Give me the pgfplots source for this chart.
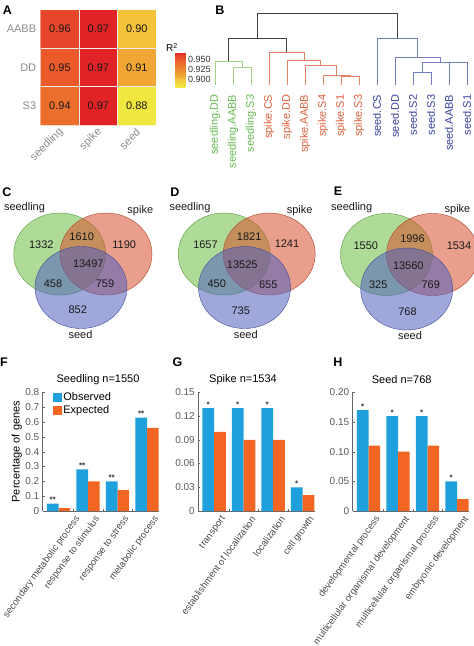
\documentclass[border=0pt]{standalone}
\usepackage{fontspec}
\setmainfont{Liberation Sans}
\usepackage{pgfplots}
\pgfplotsset{compat=1.18}

\definecolor{obs}{RGB}{30,160,220}
\definecolor{expc}{RGB}{242,101,34}
\definecolor{vgreen}{RGB}{110,190,70}
\definecolor{vred}{RGB}{215,80,45}
\definecolor{vblue}{RGB}{80,95,190}
\definecolor{dgreen}{RGB}{100,185,80}
\definecolor{dred}{RGB}{222,95,60}
\definecolor{dblue}{RGB}{55,65,160}
\definecolor{lgreen}{RGB}{160,210,140}
\definecolor{lred}{RGB}{230,130,100}
\definecolor{lblue}{RGB}{115,125,192}

\pgfplotsset{
 barax/.style={scale only axis, width=116.7pt, height=118.7pt, anchor=south west,
  ybar=0pt, bar width=11.7pt, xmin=0.464, xmax=4.42, ymin=0,
  axis x line*=bottom, axis y line*=left,
  axis line style={black!60, line width=0.5pt},
  xtick={1,2,3,4}, minor x tick num=1,
  major x tick style={draw=none}, minor x tick style={draw=black!60},
  y tick style={draw=black!60},
  minor tick length=2pt, major tick length=2pt, tick align=inside,
  yticklabel style={font=\fontsize{10}{10}\selectfont, text=black!65},
  xticklabel style={font=\fontsize{9.5}{10}\selectfont, text=black!70, xshift=11.8pt, yshift=-3.6pt, rotate=54, anchor=east},
  title style={font=\fontsize{11}{12}\selectfont, anchor=center, yshift=7pt},
  scaled y ticks=false,
  every node near coord/.append style={font=\bfseries\fontsize{8}{8}\selectfont, text=black!80, inner sep=0.5pt},
 },
 sq/.style={legend image code/.code={\fill[##1] (0pt,-4.5pt) rectangle (9pt,4.5pt);}},
}

\begin{document}
\begin{tikzpicture}
\useasboundingbox (0pt,0pt) rectangle (474pt,-646pt);

% ---------- canvas axis: dendrogram, Venn diagrams, panel letters
\begin{axis}[at={(0pt,0pt)}, anchor=north west, scale only axis,
  width=474pt, height=646pt, xmin=0, xmax=474, ymin=0, ymax=646,
  y dir=reverse, hide axis, clip=false]
% root
\addplot[black!75, line width=0.7pt] coordinates {(257.5,38.3)(257.5,13.3)(397.25,13.3)(397.25,38.3)};
\addplot[black!75, line width=0.7pt] coordinates {(228.5,61)(228.5,38.3)(286.4,38.3)(286.4,52.7)};
% seedling
\addplot[lgreen, line width=0.7pt] coordinates {(215,85)(215,61)(242,61)(242,67.3)};
\addplot[lgreen, line width=0.7pt] coordinates {(233,85)(233,67.3)(251,67.3)(251,85)};
% spike
\addplot[lred, line width=0.7pt] coordinates {(269,85)(269,52.7)(303.9,52.7)(303.9,60)};
\addplot[lred, line width=0.7pt] coordinates {(287,85)(287,60)(320.75,60)(320.75,65.7)};
\addplot[lred, line width=0.7pt] coordinates {(305,85)(305,65.7)(336.5,65.7)(336.5,75)};
\addplot[lred, line width=0.7pt] coordinates {(323,85)(323,75)(350,75)(350,76.5)};
\addplot[lred, line width=0.7pt] coordinates {(341,85)(341,76.5)(359,76.5)(359,85)};
% seed
\addplot[lblue, line width=0.7pt] coordinates {(377,85)(377,38.3)(417.5,38.3)(417.5,57.3)};
\addplot[lblue, line width=0.7pt] coordinates {(395,85)(395,57.3)(440,57.3)(440,62)};
\addplot[lblue, line width=0.7pt] coordinates {(422,72.7)(422,62)(458,62)(458,62.7)};
\addplot[lblue, line width=0.7pt] coordinates {(413,85)(413,72.7)(431,72.7)(431,85)};
\addplot[lblue, line width=0.7pt] coordinates {(449,85)(449,62.7)(467,62.7)(467,85)};
% leaf labels
\begin{scope}[every node/.style={rotate=90, anchor=east, inner sep=0pt, font=\fontsize{11}{12}\selectfont}]
\node[text=dgreen] at (axis cs:215,94.5) {seedling.DD};
\node[text=dgreen] at (axis cs:233,94.5) {seedling.AABB};
\node[text=dgreen] at (axis cs:251,94.5) {seedling.S3};
\node[text=dred] at (axis cs:269,94.5) {spike.CS};
\node[text=dred] at (axis cs:287,94.5) {spike.DD};
\node[text=dred] at (axis cs:305,94.5) {spike.AABB};
\node[text=dred] at (axis cs:323,94.5) {spike.S4};
\node[text=dred] at (axis cs:341,94.5) {spike.S1};
\node[text=dred] at (axis cs:359,94.5) {spike.S3};
\node[text=dblue] at (axis cs:377,94.5) {seed.CS};
\node[text=dblue] at (axis cs:395,94.5) {seed.DD};
\node[text=dblue] at (axis cs:413,94.5) {seed.S2};
\node[text=dblue] at (axis cs:431,94.5) {seed.S3};
\node[text=dblue] at (axis cs:449,94.5) {seed.AABB};
\node[text=dblue] at (axis cs:467,94.5) {seed.S1};
\end{scope}

% Venn diagrams
\begin{scope}[fill opacity=0.55, line width=0.4pt]
\filldraw[fill=vgreen, draw=vgreen!80!black] (axis cs:59.7,254) ellipse [x radius=46pt, y radius=41pt];
\filldraw[fill=vred, draw=vred!80!black] (axis cs:106,254) ellipse [x radius=46pt, y radius=41pt];
\filldraw[fill=vblue, draw=vblue!80!black] (axis cs:81,287.5) ellipse [x radius=46pt, y radius=41pt];
\filldraw[fill=vgreen, draw=vgreen!80!black] (axis cs:224.2,254) ellipse [x radius=46pt, y radius=41pt];
\filldraw[fill=vred, draw=vred!80!black] (axis cs:269.2,254) ellipse [x radius=46pt, y radius=41pt];
\filldraw[fill=vblue, draw=vblue!80!black] (axis cs:244.5,287.5) ellipse [x radius=46pt, y radius=41pt];
\filldraw[fill=vgreen, draw=vgreen!80!black] (axis cs:386.5,254.5) ellipse [x radius=46pt, y radius=41pt];
\filldraw[fill=vred, draw=vred!80!black] (axis cs:432.5,254.5) ellipse [x radius=46pt, y radius=41pt];
\filldraw[fill=vblue, draw=vblue!80!black] (axis cs:406.7,289) ellipse [x radius=46pt, y radius=41pt];
\end{scope}
\begin{scope}[every node/.style={font=\fontsize{11}{12}\selectfont, text=black!90, inner sep=0pt}]
\node at (axis cs:41.3,245) {1332};
\node at (axis cs:81.7,236.7) {1610};
\node at (axis cs:124.2,245) {1190};
\node at (axis cs:88.3,264) {13497};
\node at (axis cs:53,283.3) {458};
\node at (axis cs:105,284) {759};
\node at (axis cs:77.8,310) {852};
\node at (axis cs:24.5,207.3) {seedling};
\node at (axis cs:140.3,210.7) {spike};
\node at (axis cs:80.5,334.3) {seed};
\node at (axis cs:205.5,245) {1657};
\node at (axis cs:249.2,236.7) {1821};
\node at (axis cs:287,244) {1241};
\node at (axis cs:242.2,265) {13525};
\node at (axis cs:216.7,284) {450};
\node at (axis cs:268.3,284.3) {655};
\node at (axis cs:240.8,310.7) {735};
\node at (axis cs:190,207.3) {seedling};
\node at (axis cs:299.7,210.7) {spike};
\node at (axis cs:245.8,334.3) {seed};
\node at (axis cs:365.8,245.7) {1550};
\node at (axis cs:412.5,238.3) {1996};
\node at (axis cs:459,245.7) {1534};
\node at (axis cs:408.3,265.7) {13560};
\node at (axis cs:378.3,285) {325};
\node at (axis cs:430.8,285) {769};
\node at (axis cs:407.5,311.7) {768};
\node at (axis cs:351.7,207.3) {seedling};
\node at (axis cs:457.5,210) {spike};
\node at (axis cs:410,336) {seed};
\end{scope}
% colorbar title
\node[anchor=west, inner sep=0pt, font=\fontsize{10}{11}\selectfont] at (axis cs:166,47.5) {R\textsuperscript{2}};
% panel letters
\begin{scope}[every node/.style={font=\bfseries\fontsize{12.5}{13}\selectfont, inner sep=0pt}]
\node at (axis cs:7.5,10.5) {A};
\node at (axis cs:220,10) {B};
\node at (axis cs:7,192) {C};
\node at (axis cs:175,192) {D};
\node at (axis cs:338,191) {E};
\node at (axis cs:4,362.5) {F};
\node at (axis cs:177.5,362.5) {G};
\node at (axis cs:338,362.5) {H};
\end{scope}
\end{axis}

% ---------- A: heatmap
\begin{axis}[at={(40.7pt,-125pt)}, anchor=south west, scale only axis,
  width=115.3pt, height=115pt,
  xmin=-0.5, xmax=2.5, ymin=-0.5, ymax=2.5,
  xtick={0,1,2}, xticklabels={seedling,spike,seed},
  ytick={0,1,2}, yticklabels={S3,DD,AABB},
  axis line style={draw=none}, major tick length=0pt,
  tick label style={font=\fontsize{11}{12}\selectfont, text=black!45},
  xticklabel style={xshift=4pt, yshift=-3pt, rotate=45, anchor=east},
  yticklabel style={xshift=-1pt},
  colormap={heat}{rgb255(0cm)=(240,232,65); rgb255(2cm)=(243,196,58); rgb255(3cm)=(241,165,52); rgb255(6cm)=(236,110,45); rgb255(7cm)=(234,90,43); rgb255(8cm)=(231,70,42); rgb255(9cm)=(226,35,38)},
  point meta min=0.88, point meta max=0.97,
  colorbar,
  colorbar style={scale only axis, at={(parent axis.north east)}, anchor=north west,
    xshift=11pt, yshift=-42pt, width=10pt, height=35pt,
    ytick={0.9,0.925,0.95}, axis line style={draw=none}, major tick length=0pt,
    scaled y ticks=false,
    yticklabel style={font=\fontsize{9}{10}\selectfont, text=black!80, xshift=-1pt,
      /pgf/number format/fixed, /pgf/number format/fixed zerofill,
      /pgf/number format/precision=3, /pgf/number format/assume math mode=true}},
]
\addplot[matrix plot*, point meta=explicit, mesh/cols=3] table[meta=c] {
x y c
0 0 0.94
1 0 0.97
2 0 0.88
0 1 0.95
1 1 0.97
2 1 0.91
0 2 0.96
1 2 0.97
2 2 0.90
};
\draw[white!85!gray, line width=0.4pt] (axis cs:0.5,-0.5) -- (axis cs:0.5,2.5);
\draw[white!85!gray, line width=0.4pt] (axis cs:1.5,-0.5) -- (axis cs:1.5,2.5);
\draw[white!85!gray, line width=0.4pt] (axis cs:-0.5,0.5) -- (axis cs:2.5,0.5);
\draw[white!85!gray, line width=0.4pt] (axis cs:-0.5,1.5) -- (axis cs:2.5,1.5);
\begin{scope}[every node/.style={font=\fontsize{11}{12}\selectfont, text=black!90}]
\node at (axis cs:0,2) {0.96}; \node at (axis cs:1,2) {0.97}; \node at (axis cs:2,2) {0.90};
\node at (axis cs:0,1) {0.95}; \node at (axis cs:1,1) {0.97}; \node at (axis cs:2,1) {0.91};
\node at (axis cs:0,0) {0.94}; \node at (axis cs:1,0) {0.97}; \node at (axis cs:2,0) {0.88};
\end{scope}
\end{axis}

% ---------- F
\begin{axis}[barax, at={(42.7pt,-511pt)}, ymax=0.8,
  ytick={0,0.1,0.2,0.3,0.4,0.5,0.6,0.7,0.8},
  yticklabels={0,0.1,0.2,0.3,0.4,0.5,0.6,0.7,0.8},
  xticklabels={{},response to stimulus,response to stress,metabolic process},
  title={Seedling n=1550}, title style={at={(0.474,1)}},
  ylabel={Percentage of genes},
  ylabel style={font=\fontsize{11}{12}\selectfont, at={(axis description cs:-0.223,0.5)}, anchor=center},
  legend style={at={(0.09,1.01)}, anchor=north west, draw=none, fill=none, inner sep=0pt,
    row sep=1.5pt, font=\fontsize{11}{12}\selectfont, nodes={inner sep=1pt}},
  legend cell align=left, clip=false,
]
\addplot[fill=obs, draw=none, sq, nodes near coords={**}] coordinates {(1,0.05)(2,0.28)(3,0.20)(4,0.63)};
\addplot[fill=expc, draw=none, sq] coordinates {(1,0.02)(2,0.20)(3,0.14)(4,0.56)};
\legend{Observed,Expected}
\node[font=\fontsize{9.5}{10}\selectfont, text=black!70, xshift=21.5pt, yshift=-3.6pt, rotate=54, anchor=east] at (axis cs:1,0) {secondary metabolic process};
\end{axis}

% ---------- G
\begin{axis}[barax, at={(198.3pt,-511pt)}, ymax=0.15,
  ytick={0,0.03,0.06,0.09,0.12,0.15},
  yticklabels={0,0.03,0.06,0.09,0.12,0.15},
  xticklabels={transport,establishment of localization,localization,cell growth},
  title={Spike n=1534}, title style={at={(0.383,1)}},
]
\addplot[fill=obs, draw=none, nodes near coords={*}] coordinates {(1,0.13)(2,0.13)(3,0.13)(4,0.03)};
\addplot[fill=expc, draw=none] coordinates {(1,0.10)(2,0.09)(3,0.09)(4,0.02)};
\end{axis}

% ---------- H
\begin{axis}[barax, at={(352.7pt,-511pt)}, ymax=0.20,
  ytick={0,0.05,0.10,0.15,0.20},
  yticklabels={0,0.05,0.10,0.15,0.20},
  xticklabels={developmental process,multicellular organismal development,multicellular organismal process,embryonic development},
  title={Seed n=768}, title style={at={(0.42,1)}},
]
\addplot[fill=obs, draw=none, nodes near coords={*}] coordinates {(1,0.17)(2,0.16)(3,0.16)(4,0.05)};
\addplot[fill=expc, draw=none] coordinates {(1,0.11)(2,0.10)(3,0.11)(4,0.02)};
\end{axis}
\end{tikzpicture}
\end{document}
